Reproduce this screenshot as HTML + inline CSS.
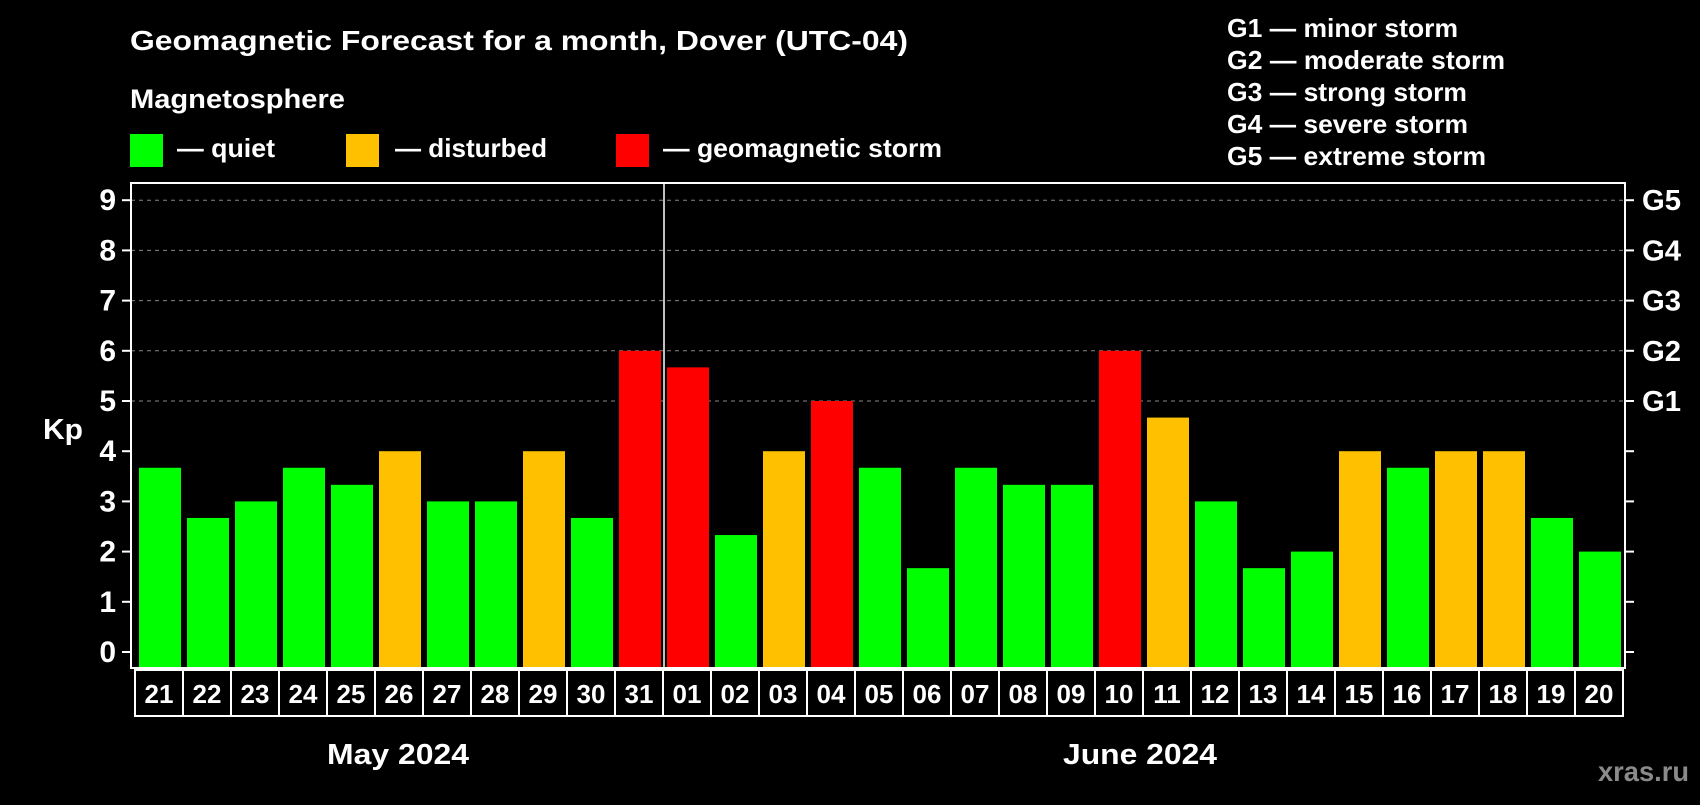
<!DOCTYPE html>
<html><head><meta charset="utf-8"><style>
body{margin:0;background:#000;width:1700px;height:800px;overflow:hidden}
svg text{font-family:"Liberation Sans",sans-serif;font-weight:bold;fill:#fff}
</style></head><body>
<svg id="c" width="1700" height="800">
<text x="130" y="50" font-size="28" textLength="778" lengthAdjust="spacingAndGlyphs">Geomagnetic Forecast for a month, Dover (UTC-04)</text>
<text x="130" y="108" font-size="27" textLength="215" lengthAdjust="spacingAndGlyphs">Magnetosphere</text>
<rect x="130" y="134" width="33" height="33" fill="#00ff00"/>
<text x="177" y="157" font-size="26" textLength="98" lengthAdjust="spacingAndGlyphs">— quiet</text>
<rect x="346" y="134" width="33" height="33" fill="#ffc000"/>
<text x="395" y="157" font-size="26" textLength="152" lengthAdjust="spacingAndGlyphs">— disturbed</text>
<rect x="616" y="134" width="33" height="33" fill="#ff0000"/>
<text x="663" y="157" font-size="26" textLength="279" lengthAdjust="spacingAndGlyphs">— geomagnetic storm</text>
<g font-size="26">
<text x="1227" y="37" textLength="231" lengthAdjust="spacingAndGlyphs">G1 — minor storm</text>
<text x="1227" y="69" textLength="278" lengthAdjust="spacingAndGlyphs">G2 — moderate storm</text>
<text x="1227" y="101" textLength="240" lengthAdjust="spacingAndGlyphs">G3 — strong storm</text>
<text x="1227" y="133" textLength="241" lengthAdjust="spacingAndGlyphs">G4 — severe storm</text>
<text x="1227" y="165" textLength="259" lengthAdjust="spacingAndGlyphs">G5 — extreme storm</text>
</g>
<text x="43" y="439" font-size="29" textLength="40" lengthAdjust="spacingAndGlyphs">Kp</text>
<text x="327" y="764" font-size="29" textLength="142" lengthAdjust="spacingAndGlyphs">May 2024</text>
<text x="1063" y="764" font-size="29" textLength="154" lengthAdjust="spacingAndGlyphs">June 2024</text>
<text x="1598" y="781" font-size="28" textLength="91" lengthAdjust="spacingAndGlyphs" style="fill:#8a8a8a">xras.ru</text>
<g id="g"></g>
</svg>
<script>
const days=["21","22","23","24","25","26","27","28","29","30","31","01","02","03","04","05","06","07","08","09","10","11","12","13","14","15","16","17","18","19","20"];
const kp=[3.67,2.67,3,3.67,3.33,4,3,3,4,2.67,6,5.67,2.33,4,5,3.67,1.67,3.67,3.33,3.33,6,4.67,3,1.67,2,4,3.67,4,4,2.67,2];
const yTicks=[0,1,2,3,4,5,6,7,8,9];
const gLabels=["","","","","","G1","G2","G3","G4","G5"];
const NS="http://www.w3.org/2000/svg",g=document.getElementById('g');
const L=131,R=1625,T=183,B=668,x0=139,pitch=48,bw=42;
const y=v=>652-v*50.2;
const x=i=>x0+i*pitch;
function mk(t,a){const e=document.createElementNS(NS,t);for(const k in a)e.setAttribute(k,a[k]);g.appendChild(e);return e;}
yTicks.forEach((v,i)=>{
 if(v>=5){const l=mk('line',{x1:L,x2:R,y1:y(v),y2:y(v),stroke:'#888','stroke-dasharray':'4,4','stroke-width':1});
 
 }
 mk('line',{x1:L-9,x2:L,y1:y(v),y2:y(v),stroke:'#fff','stroke-width':2});
 mk('line',{x1:R,x2:R+9,y1:y(v),y2:y(v),stroke:'#fff','stroke-width':2});
 const t=mk('text',{x:116,y:y(v)+10,'font-size':30,'text-anchor':'end'});t.textContent=v;
 
 
 if(gLabels[i]){const s=mk('text',{x:1642,y:y(v)+10,'font-size':29,textLength:39,lengthAdjust:'spacingAndGlyphs'});s.textContent=gLabels[i];
 
 }
});
kp.forEach((v,i)=>{
 const c=v>=5?'#ff0000':v>=4?'#ffc000':'#00ff00';
 const r=mk('rect',{x:x(i),y:y(v),width:bw,height:B-y(v),fill:c});
 
 
 const b=mk('rect',{x:x(i)-4,y:670,width:pitch,height:46,fill:'none',stroke:'#fff','stroke-width':2});
 
 
 const t=mk('text',{x:x(i)+bw/2-1,y:703,'font-size':26,'text-anchor':'middle'});t.textContent=days[i];
 
 
});
const d=mk('line',{x1:x(11)-3,x2:x(11)-3,y1:T,y2:B,stroke:'#fff','stroke-width':1.5});


const f=mk('rect',{x:L,y:T,width:R-L,height:B-T,fill:'none',stroke:'#fff','stroke-width':2});


</script>
</body></html>
